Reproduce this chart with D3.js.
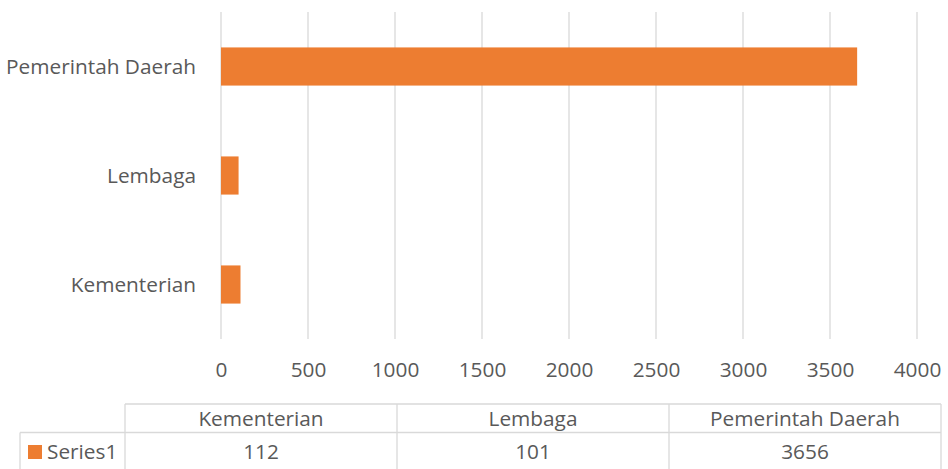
<!DOCTYPE html>
<html>
<head>
<meta charset="utf-8">
<script src="https://cdn.jsdelivr.net/npm/d3@7"></script>
<style>
  html, body { margin: 0; padding: 0; background: #fff; }
  svg text { font-family: "Open Sans", "Noto Sans", sans-serif; fill: #595959; }
</style>
</head>
<body>
<svg id="chart" width="948" height="469"></svg>
<script>
// Data
const categories = ["Kementerian", "Lembaga", "Pemerintah Daerah"];
const seriesName = "Series1";
const values = [112, 101, 3656];
const xTicks = [0, 500, 1000, 1500, 2000, 2500, 3000, 3500, 4000];

const svg = d3.select("#chart");
const plot = { left: 221, right: 917, top: 12, bottom: 339 };
const barColor = "#ED7D31";
const gridColor = "#d9d9d9";
const fontSize = 20.8;

const x = d3.scaleLinear().domain([0, 4000]).range([plot.left, plot.right]);
// Bottom-to-top category order: first category at the bottom
const y = d3.scaleBand()
  .domain(categories.slice().reverse())
  .range([plot.top, plot.bottom])
  .paddingInner(0.65)
  .paddingOuter(0.325);

// Vertical gridlines
svg.append("g")
  .selectAll("line")
  .data(xTicks)
  .join("line")
  .attr("x1", d => x(d)).attr("x2", d => x(d))
  .attr("y1", plot.top).attr("y2", plot.bottom)
  .attr("stroke", gridColor).attr("stroke-width", 1.3);

// Bars
svg.append("g")
  .selectAll("rect")
  .data(categories.map((c, i) => ({ c, v: values[i] })))
  .join("rect")
  .attr("x", x(0))
  .attr("y", d => y(d.c))
  .attr("width", d => x(d.v) - x(0))
  .attr("height", y.bandwidth())
  .attr("fill", barColor);

// X axis tick labels
const xAxis = d3.axisBottom(x).tickValues(xTicks).tickFormat(d3.format("d")).tickSize(0).tickPadding(0);
const gx = svg.append("g")
  .attr("transform", `translate(0, ${plot.bottom})`)
  .call(xAxis);
gx.select(".domain").remove();
gx.selectAll("text")
  .attr("dy", null)
  .attr("y", 38)
  .style("font-size", fontSize + "px")
  .attr("fill", "#595959");

// Y axis category labels
const yAxis = d3.axisLeft(y).tickSize(0).tickPadding(0);
const gy = svg.append("g")
  .attr("transform", `translate(${plot.left - 25}, 0)`)
  .call(yAxis);
gy.select(".domain").remove();
gy.selectAll("text")
  .attr("dy", "0.35em")
  .style("font-size", fontSize + "px")
  .attr("fill", "#595959");

// Data table below the axis
const table = { top: 404, mid: 432.5, bottom: 475, legendLeft: 20, left: 125, right: 941 };
const col = d3.scaleBand().domain(categories).range([table.left, table.right]);
const tg = svg.append("g");
const lineAttr = sel => sel.attr("stroke", gridColor).attr("stroke-width", 1.3).attr("fill", "none");

// Header row top border
tg.append("line").call(lineAttr)
  .attr("x1", table.left).attr("x2", table.right)
  .attr("y1", table.top).attr("y2", table.top);
// Row separator, spanning the legend cell too
tg.append("line").call(lineAttr)
  .attr("x1", table.legendLeft).attr("x2", table.right)
  .attr("y1", table.mid).attr("y2", table.mid);
// Legend cell left border
tg.append("line").call(lineAttr)
  .attr("x1", table.legendLeft).attr("x2", table.legendLeft)
  .attr("y1", table.mid).attr("y2", table.bottom);
// Column borders
const colEdges = [table.left].concat(categories.map(c => col(c) + col.bandwidth()));
tg.selectAll("line.col")
  .data(colEdges)
  .join("line")
  .attr("class", "col")
  .call(lineAttr)
  .attr("x1", d => d).attr("x2", d => d)
  .attr("y1", table.top).attr("y2", table.bottom);

// Header texts
tg.selectAll("text.head")
  .data(categories)
  .join("text")
  .attr("class", "head")
  .attr("x", d => col(d) + col.bandwidth() / 2)
  .attr("y", (table.top + table.mid) / 2)
  .attr("dy", "0.35em")
  .attr("text-anchor", "middle")
  .style("font-size", fontSize + "px")
  .text(d => d);

// Value texts
tg.selectAll("text.val")
  .data(categories.map((c, i) => ({ c, v: values[i] })))
  .join("text")
  .attr("class", "val")
  .attr("x", d => col(d.c) + col.bandwidth() / 2)
  .attr("y", 452)
  .attr("dy", "0.35em")
  .attr("text-anchor", "middle")
  .style("font-size", fontSize + "px")
  .text(d => d.v);

// Legend key and series name
tg.append("rect")
  .attr("x", 28).attr("y", 445)
  .attr("width", 14).attr("height", 14)
  .attr("fill", barColor);
tg.append("text")
  .attr("x", 47)
  .attr("y", 452)
  .attr("dy", "0.35em")
  .style("font-size", fontSize + "px")
  .text(seriesName);
</script>
</body>
</html>
